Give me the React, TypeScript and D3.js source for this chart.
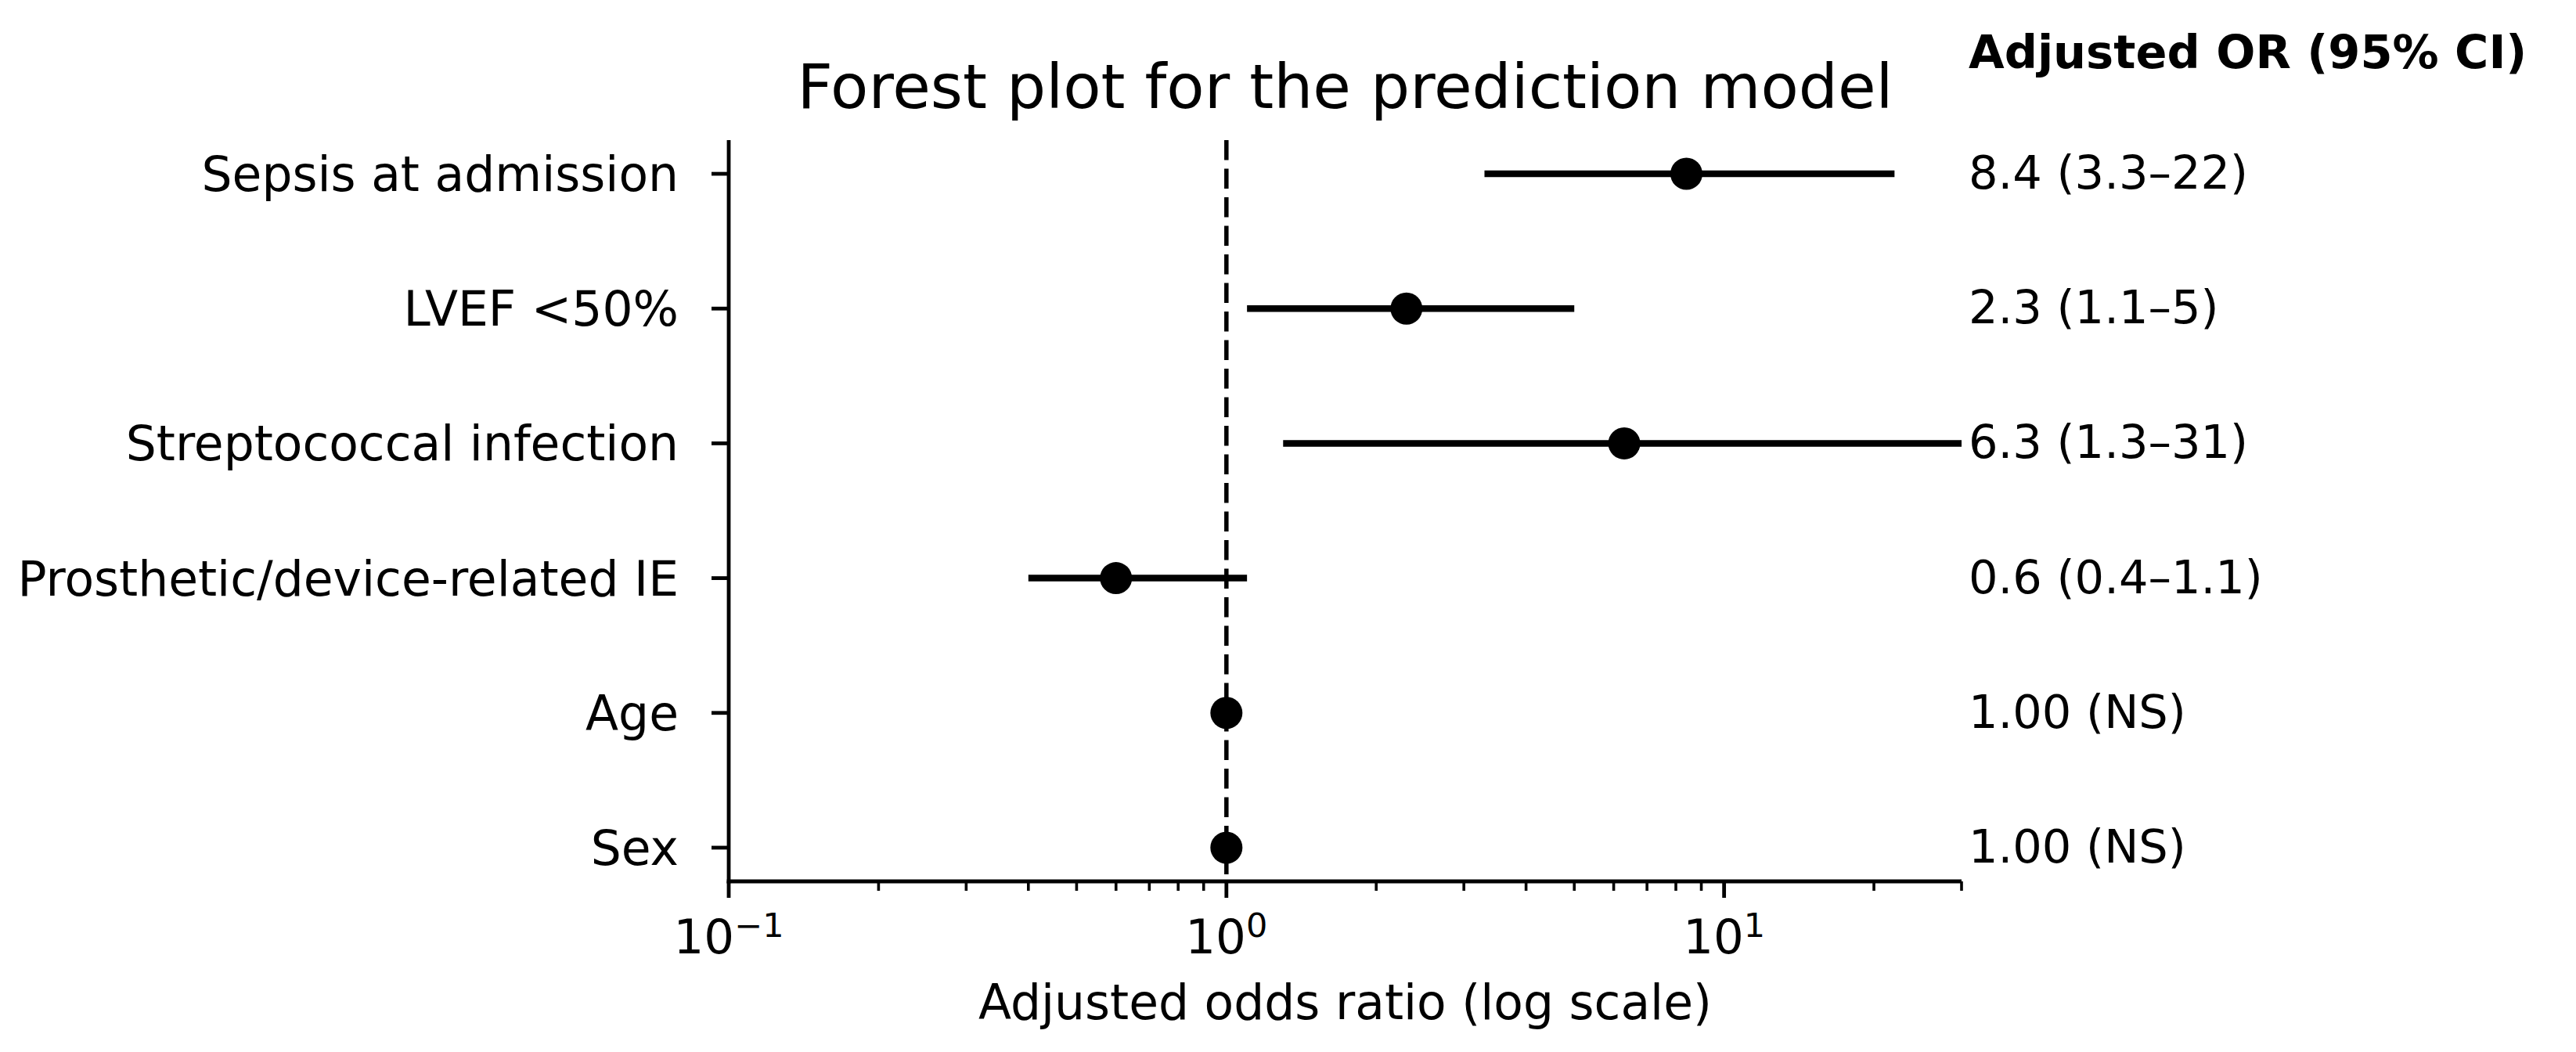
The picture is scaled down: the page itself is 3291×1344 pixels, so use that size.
import React, { useEffect } from "react";
import * as d3 from "d3";

const categories = [
  "Sepsis at admission",
  "LVEF <50%",
  "Streptococcal infection",
  "Prosthetic/device-related IE",
  "Age",
  "Sex",
];
const oddsRatios = [8.4, 2.3, 6.3, 0.6, 1.0, 1.0];
const ciLower = [3.3, 1.1, 1.3, 0.4, 1.0, 1.0];
const ciUpper = [22, 5, 31, 1.1, 1.0, 1.0];
const annotations = [
  "8.4 (3.3–22)",
  "2.3 (1.1–5)",
  "6.3 (1.3–31)",
  "0.6 (0.4–1.1)",
  "1.00 (NS)",
  "1.00 (NS)",
];
const majorTicks = [0.1, 1, 10];
const majorTickExponents = ["−1", "0", "1"];
const minorTicks = [0.2, 0.3, 0.4, 0.5, 0.6, 0.7, 0.8, 0.9, 2, 3, 4, 5, 6, 7, 8, 9, 20, 30];
const xDomain = [0.1, 30];
const titleText = "Forest plot for the prediction model";
const xLabelText = "Adjusted odds ratio (log scale)";
const headerText = "Adjusted OR (95% CI)";

const W = 3291;
const H = 1344;
const FONT = "'DejaVu Sans', sans-serif";

export default function App() {
  useEffect(() => {
    document.body.style.margin = "0";
  }, []);

  const left = 931;
  const right = 2506;
  const top = 179;
  const bottom = 1126;

  const x = d3.scaleLog().domain(xDomain).range([left, right]);
  const n = categories.length;
  const y = d3.scaleLinear().domain([-0.25, n - 1 + 0.25]).range([bottom, top]);
  const rowY = (i: number) => y(n - 1 - i);

  const fs = 61.5;
  const fsAnn = 59;

  return (
    <svg
      width={W}
      height={H}
      style={{ position: "absolute", left: 0, top: 0, background: "#fff" }}
      fontFamily={FONT}
    >
      <defs>
        <clipPath id="plotClip">
          <rect x={left} y={top} width={right - left} height={bottom - top} />
        </clipPath>
      </defs>
      <rect x={0} y={0} width={W} height={H} fill="#fff" />

      {/* reference line at OR = 1 */}
      <line
        x1={x(1)}
        x2={x(1)}
        y1={top}
        y2={bottom}
        stroke="#000"
        strokeWidth={5.5}
        strokeDasharray="25.5 11"
      />

      {/* error bars and points */}
      <g clipPath="url(#plotClip)">
        {categories.map((c, i) => (
          <line
            key={"ci" + i}
            x1={x(ciLower[i])}
            x2={x(ciUpper[i])}
            y1={rowY(i)}
            y2={rowY(i)}
            stroke="#000"
            strokeWidth={8.5}
          />
        ))}
      </g>
      {categories.map((c, i) => (
        <circle key={"pt" + i} cx={x(oddsRatios[i])} cy={rowY(i)} r={20.5} fill="#000" />
      ))}

      {/* spines */}
      <line x1={left} x2={left} y1={top} y2={bottom + 2.4} stroke="#000" strokeWidth={4.8} />
      <line x1={left - 2.4} x2={right} y1={bottom} y2={bottom} stroke="#000" strokeWidth={4.8} />

      {/* y ticks & labels */}
      {categories.map((c, i) => (
        <g key={"yt" + i}>
          <line x1={left - 22} x2={left} y1={rowY(i)} y2={rowY(i)} stroke="#000" strokeWidth={4.8} />
          <text x={867} y={rowY(i) + 22} textAnchor="end" fontSize={fs} fill="#000">
            {c}
          </text>
        </g>
      ))}

      {/* x minor ticks */}
      {minorTicks.map((t, i) => (
        <line key={"mt" + i} x1={x(t)} x2={x(t)} y1={bottom} y2={bottom + 12} stroke="#000" strokeWidth={3.6} />
      ))}
      {/* x major ticks */}
      {majorTicks.map((t, i) => (
        <g key={"Mt" + i}>
          <line x1={x(t)} x2={x(t)} y1={bottom} y2={bottom + 21} stroke="#000" strokeWidth={4.8} />
          <text x={x(t)} y={1218} textAnchor="middle" fontSize={61} fill="#000">
            10
            <tspan dy={-21} fontSize={43}>
              {majorTickExponents[i]}
            </tspan>
          </text>
        </g>
      ))}

      {/* title */}
      <text x={(left + right) / 2} y={138} textAnchor="middle" fontSize={79} fill="#000">
        {titleText}
      </text>

      {/* x label */}
      <text x={(left + right) / 2} y={1302} textAnchor="middle" fontSize={61.5} fill="#000">
        {xLabelText}
      </text>

      {/* header */}
      <text x={2515} y={87} fontSize={fsAnn} fontWeight="bold" fill="#000">
        {headerText}
      </text>

      {/* annotations */}
      {annotations.map((a, i) => (
        <text key={"an" + i} x={2515} y={rowY(i) + 19} fontSize={fsAnn} fill="#000">
          {a}
        </text>
      ))}
    </svg>
  );
}
